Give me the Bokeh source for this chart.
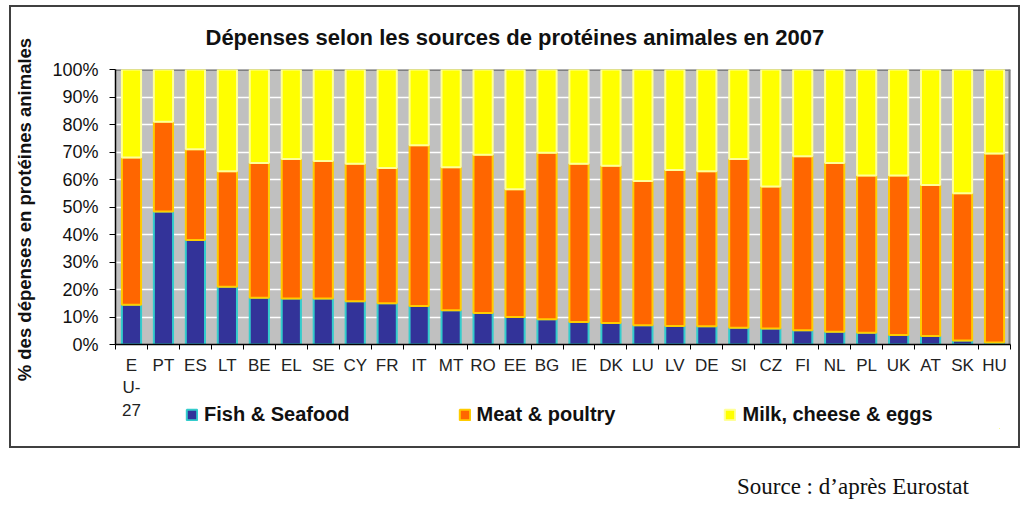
from bokeh.plotting import figure
from bokeh.models import (Range1d, FixedTicker, Span, Legend, LegendItem,
                          ColumnDataSource, Div, PrintfTickFormatter)
from bokeh.layouts import column
from bokeh.embed import file_html
from bokeh.resources import INLINE

# ---------------- data ----------------
countries = ["EU-27", "PT", "ES", "LT", "BE", "EL", "SE", "CY", "FR", "IT", "MT", "RO", "EE", "BG",
             "IE", "DK", "LU", "LV", "DE", "SI", "CZ", "FI", "NL", "PL", "UK", "AT", "SK", "HU"]
tick_labels = ["E\nU-\n27", "PT", "ES", "LT", "BE", "EL", "SE", "CY", "FR", "IT", "MT", "RO", "EE", "BG",
               "IE", "DK", "LU", "LV", "DE", "SI", "CZ", "FI", "NL", "PL", "UK", "AT", "SK", "HU"]
fish = [14.5, 48.4, 38.0, 21.0, 17.0, 16.7, 16.7, 15.7, 15.0, 14.0, 12.5, 11.5, 10.0, 9.2,
        8.2, 7.8, 7.0, 6.7, 6.6, 6.1, 5.8, 5.2, 4.6, 4.3, 3.5, 3.1, 1.5, 0.7]
meat = [53.5, 32.6, 33.0, 42.0, 49.0, 50.8, 50.0, 50.0, 49.2, 58.5, 52.0, 57.5, 46.5, 60.5,
        57.5, 57.2, 52.5, 56.8, 56.4, 61.4, 51.7, 63.3, 61.4, 57.2, 58.0, 54.9, 53.5, 68.8]
milk = [32.0, 19.0, 29.0, 37.0, 34.0, 32.5, 33.3, 34.3, 35.8, 27.5, 35.5, 31.0, 43.5, 30.3,
        34.3, 35.0, 40.5, 36.5, 37.0, 32.5, 42.5, 31.5, 34.0, 38.5, 38.5, 42.0, 45.0, 30.5]
series = ["Fish & Seafood", "Meat & poultry", "Milk, cheese & eggs"]
y_ticks = [0, 10, 20, 30, 40, 50, 60, 70, 80, 90, 100]

title_text = "Dépenses selon les sources de protéines animales en 2007"
ylabel_text = "% des dépenses  en protéines animales"
source_text = "Source : d\u2019après Eurostat"

fills = ["#333399", "#FF6600", "#FFFF00"]
lines = ["#33CCCC", "#FFCC00", "#FFFF99"]

# ---------------- main figure ----------------
n = len(countries)
xs = list(range(n))
src = ColumnDataSource(dict(x=xs, fish=fish, meat=meat, milk=milk))

p = figure(width=1011, height=443, output_backend="svg", toolbar_location=None,
           x_range=Range1d(-0.5, n - 0.5), y_range=Range1d(0, 100),
           min_border_left=104, min_border_right=12, min_border_top=61, min_border_bottom=106,
           background_fill_color="#C0C0C0", border_fill_color="white",
           margin=(5, 0, 0, 9))
p.styles = {"border": "2px solid #404040"}
p.outline_line_color = None
p.xgrid.grid_line_color = None
p.ygrid.grid_line_color = "white"
p.ygrid.grid_line_width = 1.5
p.ygrid.ticker = FixedTicker(ticks=y_ticks)

p.title.text = title_text
p.title.align = "left"
p.title.vertical_align = "top"
p.title.offset = 90
p.title.standoff = 35
p.title.text_font = "Liberation Sans"
p.title.text_font_style = "bold"
p.title.text_font_size = "22px"
p.title.text_color = "#111111"

rs = p.vbar_stack(["fish", "meat", "milk"], x="x", width=0.6, source=src,
                  fill_color=fills, line_color=lines, line_width=2)

p.add_layout(Span(location=100, dimension="width", line_color="#808080", line_width=3, level="underlay"))
p.add_layout(Span(location=n - 0.5, dimension="height", line_color="#808080", line_width=4, level="underlay"))

xa = p.xaxis[0]
xa.ticker = FixedTicker(ticks=xs, minor_ticks=[i - 0.5 for i in range(n + 1)])
xa.major_label_overrides = {i: lab for i, lab in enumerate(tick_labels)}
xa.major_tick_line_color = None
xa.major_tick_out = 5
xa.major_tick_in = 0
xa.minor_tick_line_color = "black"
xa.minor_tick_out = 5
xa.minor_tick_in = 0
xa.major_label_standoff = 6
xa.axis_line_color = "black"
xa.axis_line_width = 1.5
xa.major_label_text_font = "Liberation Sans"
xa.major_label_text_font_size = "17px"
xa.major_label_text_color = "#222222"

ya = p.yaxis[0]
ya.ticker = FixedTicker(ticks=y_ticks)
ya.formatter = PrintfTickFormatter(format="%d%%")
ya.major_tick_out = 6
ya.major_tick_in = 0
ya.minor_tick_line_color = None
ya.major_label_standoff = 11
ya.axis_line_color = "black"
ya.axis_line_width = 1.5
ya.major_label_text_font = "Liberation Sans"
ya.major_label_text_font_size = "18px"
ya.major_label_text_color = "#111111"
ya.axis_label = ylabel_text
ya.axis_label_standoff = 14
ya.axis_label_text_font = "Liberation Sans"
ya.axis_label_text_font_style = "bold"
ya.axis_label_text_font_size = "18.5px"
ya.axis_label_text_color = "#111111"

# ---------------- legend strip (overlaid on the bottom of the box) ----------------
# its ranges lie outside the data, so the proxy bars stay hidden and only the legend shows
lg = figure(width=930, height=26, output_backend="svg", toolbar_location=None,
            x_range=Range1d(-3, -2), y_range=Range1d(1000, 1001),
            x_axis_location=None, y_axis_location=None,
            min_border=0, min_border_left=0, min_border_right=0, min_border_top=0, min_border_bottom=0,
            background_fill_alpha=0, border_fill_alpha=0, outline_line_color=None,
            margin=(-45, 0, 0, 81))
lg.grid.visible = False
proxies = lg.vbar_stack(["fish", "meat", "milk"], x="x", width=0.6, source=src,
                        fill_color=fills, line_color=lines, line_width=2)
legend = Legend(items=[LegendItem(label=series[i], renderers=[proxies[i]]) for i in range(3)],
                orientation="horizontal", location="top_left", spacing=108,
                glyph_width=13, glyph_height=13, label_standoff=6,
                label_text_font="Liberation Sans", label_text_font_style="bold",
                label_text_font_size="20px", label_text_color="#111111",
                padding=2, margin=0, border_line_color=None, background_fill_alpha=0)
lg.add_layout(legend)

div = Div(text=source_text, width=300, height=24, margin=(42, 0, 0, 737),
          styles={"font-family": "Liberation Serif", "font-size": "23px", "color": "#111111",
                  "white-space": "nowrap"})

layout = column(p, lg, div, spacing=0)
open("out.html", "w").write(file_html(layout, INLINE))
